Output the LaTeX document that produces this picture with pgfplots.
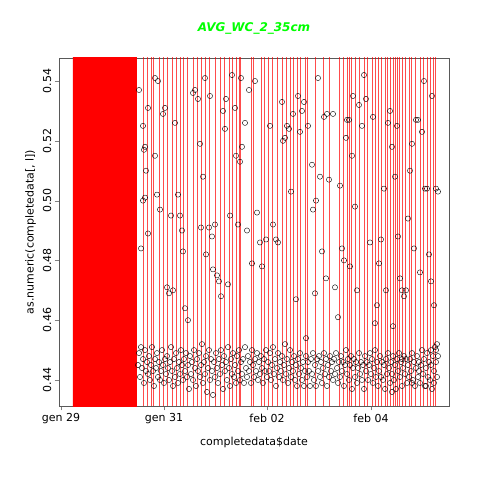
\documentclass[border=0pt]{standalone}
\usepackage{pgfplots}
\pgfplotsset{compat=1.18}
\usepackage{fontspec}
\setmainfont{DejaVu Sans}
\begin{document}
\begin{tikzpicture}
\useasboundingbox (-59pt,-74pt) rectangle (421pt,406pt);
\begin{axis}[at={(0,0)},anchor=south west,scale only axis,width=390pt,height=348pt,
 xmin=59,xmax=449,ymin=0.4313,ymax=0.5477,
 xtick={61,164,267,371},xticklabels={gen 29,gen 31,feb 02,feb 04},
 ytick={0.44,0.46,0.48,0.50,0.52,0.54},
 yticklabel style={rotate=90,/pgf/number format/fixed,/pgf/number format/precision=2,/pgf/number format/fixed zerofill},
 /pgf/number format/assume math mode=true,
 tick align=outside,xtick pos=bottom,ytick pos=left,
 tick label style={font=\fontsize{11}{12}\selectfont},
 label style={font=\fontsize{11}{12}\selectfont},
 xlabel={completedata\$date},ylabel={as.numeric(completedata[, l])},
 xlabel style={yshift=-6pt},
 title={\textcolor{green}{\bfseries\itshape AVG\_WC\_2\_35cm}},title style={yshift=14pt,font=\fontsize{12}{14}\selectfont},
 axis line style={gray!70!black},clip=true]
\addplot[only marks,mark=o,mark size=2.6pt,black,line width=0.4pt] coordinates {
(139,0.537)(141,0.484)(143,0.525)(144,0.517)(145,0.518)(146,0.510)(143,0.500)(145,0.501)(148,0.531)(148,0.489)
(155,0.541)(155,0.515)(157,0.502)(158,0.540)(160,0.497)(163,0.529)(165,0.531)(167,0.471)(169,0.469)(171,0.495)
(173,0.470)(175,0.526)(178,0.502)(180,0.495)(182,0.490)(183,0.483)(185,0.464)(188,0.460)(193,0.536)(195,0.537)
(198,0.534)(200,0.519)(201,0.491)(203,0.508)(205,0.541)(206,0.482)(209,0.491)(210,0.535)(212,0.488)(213,0.477)
(215,0.492)(217,0.475)(219,0.473)(221,0.468)(223,0.530)(225,0.524)(226,0.534)(228,0.472)(230,0.495)(232,0.542)
(235,0.531)(236,0.515)(238,0.492)(240,0.513)(241,0.541)(242,0.518)(245,0.526)(247,0.490)(249,0.537)(252,0.479)
(255,0.540)(257,0.496)(260,0.486)(262,0.478)(266,0.487)(270,0.525)(273,0.492)(276,0.487)(278,0.486)(282,0.533)
(283,0.520)(285,0.521)(287,0.525)(289,0.524)(291,0.503)(293,0.529)(296,0.467)(298,0.535)(300,0.523)(302,0.530)
(304,0.533)(306,0.454)(308,0.525)(312,0.512)(313,0.497)(315,0.469)(316,0.500)(318,0.541)(320,0.508)(322,0.483)
(324,0.528)(326,0.474)(327,0.529)(329,0.507)(333,0.529)(335,0.471)(338,0.461)(340,0.505)(342,0.484)(344,0.480)
(346,0.521)(347,0.527)(349,0.527)(350,0.478)(352,0.515)(353,0.535)(355,0.498)(357,0.470)(359,0.532)(362,0.525)
(364,0.542)(366,0.534)(370,0.486)(373,0.528)(375,0.459)(377,0.465)(379,0.479)(381,0.487)(384,0.504)(386,0.470)
(388,0.526)(390,0.530)(392,0.518)(393,0.458)(395,0.508)(397,0.525)(398,0.488)(400,0.474)(402,0.470)(404,0.468)
(406,0.470)(408,0.494)(410,0.510)(412,0.519)(414,0.484)(416,0.527)(418,0.527)(420,0.476)(422,0.523)(424,0.540)
(425,0.504)(427,0.504)(429,0.482)(431,0.473)(432,0.535)(434,0.465)(436,0.504)(438,0.503)
(138,0.445)(139,0.449)(140,0.441)(141,0.451)(142,0.444)(143,0.447)(144,0.439)(145,0.450)(146,0.443)(147,0.446)
(148,0.442)(149,0.448)(150,0.440)(151,0.445)(152,0.451)(153,0.443)(154,0.438)(155,0.447)(156,0.444)(157,0.449)
(158,0.441)(159,0.446)(160,0.440)(161,0.443)(162,0.450)(163,0.445)(164,0.439)(165,0.447)(166,0.442)(167,0.448)
(168,0.444)(169,0.440)(170,0.446)(171,0.451)(172,0.443)(173,0.438)(174,0.447)(175,0.441)(176,0.449)(177,0.444)
(178,0.439)(179,0.446)(180,0.442)(181,0.450)(182,0.445)(183,0.440)(184,0.447)(185,0.443)(186,0.449)(187,0.441)
(188,0.445)(189,0.437)(190,0.448)(191,0.442)(192,0.446)(193,0.440)(194,0.450)(195,0.444)(196,0.438)(197,0.447)
(198,0.443)(199,0.449)(200,0.441)(201,0.445)(202,0.452)(203,0.439)(204,0.446)(205,0.442)(206,0.448)(207,0.436)
(208,0.444)(209,0.450)(210,0.440)(211,0.447)(212,0.443)(213,0.435)(214,0.446)(215,0.441)(216,0.449)(217,0.444)
(218,0.439)(219,0.447)(220,0.442)(221,0.450)(222,0.445)(223,0.437)(224,0.448)(225,0.443)(226,0.446)(227,0.440)
(228,0.451)(229,0.444)(230,0.438)(231,0.447)(232,0.442)(233,0.449)(234,0.441)(235,0.445)(236,0.439)(237,0.448)
(238,0.443)(239,0.450)(240,0.440)(241,0.446)(242,0.442)(243,0.447)(244,0.439)(245,0.451)(246,0.444)(247,0.441)
(248,0.448)(249,0.443)(250,0.446)(251,0.439)(252,0.450)(253,0.445)(254,0.441)(255,0.447)(256,0.443)(257,0.449)
(258,0.440)(259,0.446)(260,0.442)(261,0.448)(262,0.444)(263,0.439)(264,0.447)(265,0.443)(266,0.450)(267,0.441)
(268,0.446)(269,0.443)(270,0.449)(271,0.440)(272,0.445)(273,0.451)(274,0.442)(275,0.447)(276,0.438)(277,0.444)
(278,0.449)(279,0.441)(280,0.446)(281,0.443)(282,0.448)(283,0.440)(284,0.445)(285,0.452)(286,0.442)(287,0.447)
(288,0.439)(289,0.444)(290,0.450)(291,0.441)(292,0.446)(293,0.443)(294,0.448)(295,0.440)(296,0.445)(297,0.438)
(298,0.447)(299,0.442)(300,0.449)(301,0.444)(302,0.440)(303,0.446)(304,0.438)(305,0.443)(306,0.448)(307,0.441)
(308,0.446)(309,0.443)(310,0.438)(311,0.447)(312,0.442)(313,0.449)(314,0.440)(315,0.445)(316,0.438)(317,0.447)
(318,0.443)(319,0.448)(320,0.441)(321,0.446)(322,0.439)(323,0.444)(324,0.449)(325,0.442)(326,0.447)(327,0.438)
(328,0.445)(329,0.441)(330,0.448)(331,0.443)(332,0.446)(333,0.440)(334,0.447)(335,0.442)(336,0.449)(337,0.444)
(338,0.439)(339,0.446)(340,0.441)(341,0.448)(342,0.443)(343,0.446)(344,0.438)(345,0.445)(346,0.450)(347,0.442)
(348,0.447)(349,0.440)(350,0.445)(351,0.448)(352,0.437)(353,0.444)(354,0.447)(355,0.441)(356,0.446)(357,0.439)
(358,0.444)(359,0.449)(360,0.442)(361,0.446)(362,0.440)(363,0.445)(364,0.437)(365,0.448)(366,0.443)(367,0.446)
(368,0.440)(369,0.445)(370,0.449)(371,0.442)(372,0.447)(373,0.439)(374,0.444)(375,0.450)(376,0.441)(377,0.446)
(378,0.438)(379,0.443)(380,0.448)(381,0.441)(382,0.446)(383,0.440)(384,0.445)(385,0.437)(386,0.447)(387,0.442)
(388,0.449)(389,0.444)(390,0.439)(391,0.446)(392,0.442)(393,0.448)(394,0.440)(395,0.445)(396,0.437)(397,0.447)
(398,0.443)(399,0.449)(400,0.441)(401,0.446)(402,0.438)(403,0.444)(404,0.448)(405,0.442)(406,0.447)(407,0.439)
(408,0.445)(409,0.441)(410,0.447)(411,0.443)(412,0.449)(413,0.440)(414,0.446)(415,0.438)(416,0.444)(417,0.448)
(418,0.441)(419,0.446)(420,0.439)(421,0.445)(422,0.450)(423,0.442)(424,0.447)(425,0.438)(426,0.444)(427,0.449)
(428,0.441)(429,0.446)(430,0.440)(431,0.445)(432,0.437)(433,0.448)(434,0.443)(435,0.451)(436,0.446)(437,0.441)
(438,0.448)(436,0.450)(437,0.452)(434,0.439)(431,0.450)(426,0.438)(419,0.443)(412,0.439)(402,0.447)(392,0.436)
};
\addplot[fill=red,draw=none] coordinates {(73,0.42)(137,0.42)(137,0.56)(73,0.56)} \closedcycle;
\addplot[ycomb,red,opacity=0.7,line width=0.5pt,mark=none] coordinates {
(143,1)(147,1)(151,1)(153,1)(159,1)(163,1)(167,1)(172,1)(176,1)(180,1)(183,1)(187,1)(193,1)(197,1)(201,1)(205,1)
(209,1)(215,1)(220,1)(224,1)(229,1)(232,1)(236,1)(239,1)(240,1)(251,1)(253,1)(261,1)(264,1)(268,1)(272,1)(277,1)
(282,1)(286,1)(290,1)(293,1)(297,1)(300,1)(305,1)(307,1)(315,1)(323,1)(329,1)(339,1)(343,1)(347,1)(349,1)(351,1)
(355,1)(359,1)(364,1)(367,1)(372,1)(375,1)(378,1)(381,1)(385,1)(387,1)(390,1)(393,1)(395,1)(397,1)(399,1)(402,1)
(405,1)(409,1)(411,1)(415,1)(420,1)(423,1)(427,1)(430,1)(433,1)(435,1)};
\end{axis}
\end{tikzpicture}
\end{document}
